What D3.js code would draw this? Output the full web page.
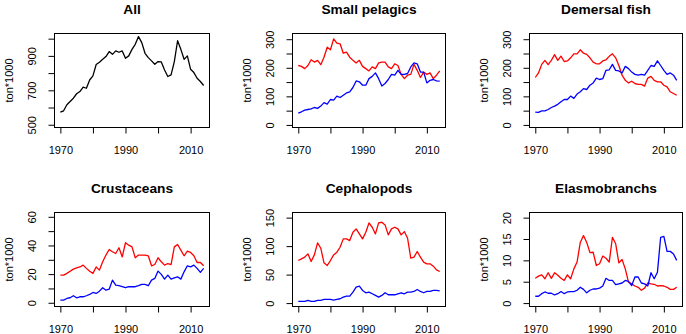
<!DOCTYPE html>
<html>
<head>
<meta charset="utf-8">
<script src="https://cdn.jsdelivr.net/npm/d3@7"></script>
<style>
  body { margin: 0; background: #fff; }
  svg { display: block; font-family: "Liberation Sans", Arial, sans-serif; }
  .tick line { stroke: #000; }
  .tick text { font-size: 11px; fill: #000; }
</style>
</head>
<body>
<div id="chart"></div>
<script>
// years on the x axis
const years = [1970,1971,1972,1973,1974,1975,1976,1977,1978,1979,
               1980,1981,1982,1983,1984,1985,1986,1987,1988,1989,
               1990,1991,1992,1993,1994,1995,1996,1997,1998,1999,
               2000,2001,2002,2003,2004,2005,2006,2007,2008,2009,
               2010,2011,2012,2013,2014];

const xTicks = [1970, 1980, 1990, 2000, 2010];
const xLabels = [1970, 1990, 2010];

// landings, ton*1000
const allTotal = [573,581,616,635,654,680,693,718,712,760,
                  784,850,863,880,896,925,909,929,921,929,
                  886,900,938,967,1012,977,915,890,871,851,
                  867,865,818,780,790,867,988,938,880,900,
                  822,803,770,751,728];

const pelagicsRed = [208,205,197,208,228,220,226,211,237,272,
                     263,301,286,284,251,255,237,226,217,226,
                     205,197,189,203,197,217,220,220,203,197,
                     214,208,177,162,174,177,212,191,166,185,
                     177,182,162,174,189];
const pelagicsBlue = [41,46,52,54,56,61,58,66,78,73,
                      89,87,101,96,104,112,116,131,154,151,
                      139,139,162,170,182,162,136,145,159,177,
                      174,191,177,177,180,203,217,214,185,185,
                      147,156,159,154,153];

const demersalRed = [166,182,212,226,211,226,246,226,241,222,
                     224,235,249,249,263,251,247,235,220,214,
                     214,224,228,240,249,235,208,174,156,147,
                     153,145,142,142,136,164,170,156,151,151,
                     139,133,116,110,104];
const demersalBlue = [45,44,49,49,54,61,66,72,81,89,
                      89,101,93,108,116,127,124,139,147,164,
                      159,162,191,193,212,191,189,182,205,197,
                      185,177,174,177,174,191,208,205,224,208,
                      191,177,182,174,156];

const crustRed = [19.3,19.3,20.5,22,23.5,24.4,25,26.3,24,22,
                  20.5,25,22.8,28.6,33.3,37.2,35.6,34.4,38.4,32,
                  41.9,40.2,39,31.4,33.3,33.3,33.3,32.8,25.8,26.7,
                  31.4,28.6,26.3,27.4,26.7,39,40.7,36.7,32.8,36,
                  35.1,32.8,28.1,28.1,25.8];
const crustBlue = [1.9,1.9,3,3.5,4.9,3.5,4.2,4.2,4.9,5.8,
                   7.2,6.5,8.1,10.5,8.8,9.5,15.8,12.3,11.9,11.2,
                   10.5,11.2,11.2,11.2,11.9,12.8,12.8,11.9,15.8,17,
                   22.1,19.8,16.5,19.3,16.5,17.4,18.1,16.5,21.6,25.8,
                   25.1,26.3,24,21.2,24];

const cephRed = [74.7,77.6,80.6,86.4,73,84.6,105.7,96.3,70.6,66,
                 74.7,84.6,89.3,98,112.7,112.7,109.7,124.3,130.2,121.4,
                 112.7,124.3,140.7,133.1,121.4,140.7,141.9,137.2,119.7,130.2,
                 133.1,130.2,119.7,125.5,113.8,78.8,80.6,90.5,80.6,71.8,
                 68.9,68.9,64.8,58.4,55.5];
const cephBlue = [2.9,2.9,2.9,4.7,2.9,2.9,4.7,4.7,6.4,6.4,
                  6.4,5.3,6.4,7.6,10.5,12.3,12.3,19.3,28,29.8,
                  22.2,18.1,19.3,16.3,13.4,10.5,13.4,18.1,14.6,14.6,
                  14.6,16.3,18.1,16.3,19.3,19.3,20.4,23.9,20.4,18.1,
                  20.4,20.4,22.2,22.2,21.6];

const elasmoRed = [5.8,6.3,6.6,5.7,7.1,5.8,7.1,6.5,5.8,5.3,
                   6.6,5.7,8,9.6,14.2,15.8,14.2,11.8,11.9,8.8,
                   9.2,11,10.5,9.6,15.4,13.9,9.4,10.2,8,4.9,
                   4.5,4,3.7,3,3.5,4.7,4.5,4.4,4,4.1,
                   4,3.7,3.2,3.2,3.7];
const elasmoBlue = [1.6,1.6,2.2,2.6,2.3,2.3,1.9,2.2,2.7,2.2,
                    2.6,2.7,2.7,3,3.7,3.2,2.4,3,3.3,3.3,
                    3.5,4,5.8,5.3,5.3,4.3,4.5,4.7,5.3,5.1,
                    4.1,6.1,6.1,4.7,4.5,4,7.1,5.7,7.2,15.4,
                    15.6,12.1,12.1,11.5,10];

class SmallMultiples {
    constructor(parentElement, panels) {
        this.parentElement = parentElement;
        this.panels = panels;
        this.initVis();
    }

    initVis() {
        const vis = this;

        vis.width = 686;
        vis.height = 334;

        vis.svg = d3.select("#" + vis.parentElement)
            .append("svg")
            .attr("width", vis.width)
            .attr("height", vis.height);

        vis.svg.append("rect")
            .attr("width", vis.width)
            .attr("height", vis.height)
            .attr("fill", "#fff");

        // plot region boxes (left edges per column, top edges per row)
        vis.colLeft = [54.5, 292.5, 529.5];
        vis.colWidth = [155, 153, 153];
        vis.rowTop = [33.5, 212.5];
        vis.boxHeight = 94;

        vis.panels.forEach((p, i) => vis.drawPanel(p, i % 3, Math.floor(i / 3)));
    }

    drawPanel(p, col, row) {
        const vis = this;
        const left = vis.colLeft[col];
        const top = vis.rowTop[row];
        const w = vis.colWidth[col];
        const h = vis.boxHeight;

        const g = vis.svg.append("g")
            .attr("transform", `translate(${left},${top})`);

        const x = d3.scaleLinear().domain([1968.2, 2015.8]).range([0, w]);
        const y = d3.scaleLinear().domain(p.yDomain).range([h, 0]);

        // x axis
        const xAxis = g.append("g")
            .attr("transform", `translate(0,${h})`)
            .call(d3.axisBottom(x)
                .tickValues(xTicks)
                .tickSize(6)
                .tickSizeOuter(0)
                .tickFormat(d => xLabels.includes(d) ? d : ""));
        xAxis.select(".domain").remove();
        xAxis.selectAll(".tick text")
            .attr("y", 22.5)
            .attr("dy", "0.35em");

        // y axis with rotated labels, like R's default las=0
        const yAxis = g.append("g")
            .call(d3.axisLeft(y)
                .tickValues(p.yTicks)
                .tickSize(6)
                .tickSizeOuter(0)
                .tickFormat(d => p.yLabels.includes(d) ? d : ""));
        yAxis.select(".domain").remove();
        yAxis.selectAll(".tick text")
            .attr("x", 0)
            .attr("dy", "0.35em")
            .attr("text-anchor", "middle")
            .attr("transform", "translate(-22.5,0) rotate(-90)");

        // series
        const line = d3.line()
            .x((d, i) => x(years[i]))
            .y(d => y(d));

        p.series.forEach(s => {
            g.append("path")
                .datum(s.values)
                .attr("fill", "none")
                .attr("stroke", s.color)
                .attr("stroke-width", 1.3)
                .attr("stroke-linejoin", "round")
                .attr("d", line);
        });

        // frame
        g.append("rect")
            .attr("width", w)
            .attr("height", h)
            .attr("fill", "none")
            .attr("stroke", "#000")
            .attr("stroke-width", 1);

        // title
        g.append("text")
            .attr("x", w / 2)
            .attr("y", -24.5)
            .attr("dy", "0.35em")
            .attr("text-anchor", "middle")
            .style("font-size", "13.7px")
            .style("font-weight", "bold")
            .text(p.title);

        // y label
        g.append("text")
            .attr("transform", `translate(-45.5,${h / 2}) rotate(-90)`)
            .attr("dy", "0.35em")
            .attr("text-anchor", "middle")
            .style("font-size", "11px")
            .text("ton*1000");
    }
}

const panels = [
    { title: "All", yDomain: [484, 1030],
      yTicks: [500, 600, 700, 800, 900, 1000], yLabels: [500, 700, 900],
      series: [{ values: allTotal, color: "#000" }] },
    { title: "Small pelagics", yDomain: [-9, 320],
      yTicks: [0, 50, 100, 150, 200, 250, 300], yLabels: [0, 100, 200, 300],
      series: [{ values: pelagicsRed, color: "#ff0000" }, { values: pelagicsBlue, color: "#0000ff" }] },
    { title: "Demersal fish", yDomain: [-9, 320],
      yTicks: [0, 50, 100, 150, 200, 250, 300], yLabels: [0, 100, 200, 300],
      series: [{ values: demersalRed, color: "#ff0000" }, { values: demersalBlue, color: "#0000ff" }] },
    { title: "Crustaceans", yDomain: [-2.6, 63],
      yTicks: [0, 10, 20, 30, 40, 50, 60], yLabels: [0, 20, 40, 60],
      series: [{ values: crustRed, color: "#ff0000" }, { values: crustBlue, color: "#0000ff" }] },
    { title: "Cephalopods", yDomain: [-6, 159],
      yTicks: [0, 50, 100, 150], yLabels: [0, 50, 100, 150],
      series: [{ values: cephRed, color: "#ff0000" }, { values: cephBlue, color: "#0000ff" }] },
    { title: "Elasmobranchs", yDomain: [-0.8, 21.2],
      yTicks: [0, 5, 10, 15, 20], yLabels: [0, 5, 10, 15, 20],
      series: [{ values: elasmoRed, color: "#ff0000" }, { values: elasmoBlue, color: "#0000ff" }] }
];

new SmallMultiples("chart", panels);
</script>
</body>
</html>
